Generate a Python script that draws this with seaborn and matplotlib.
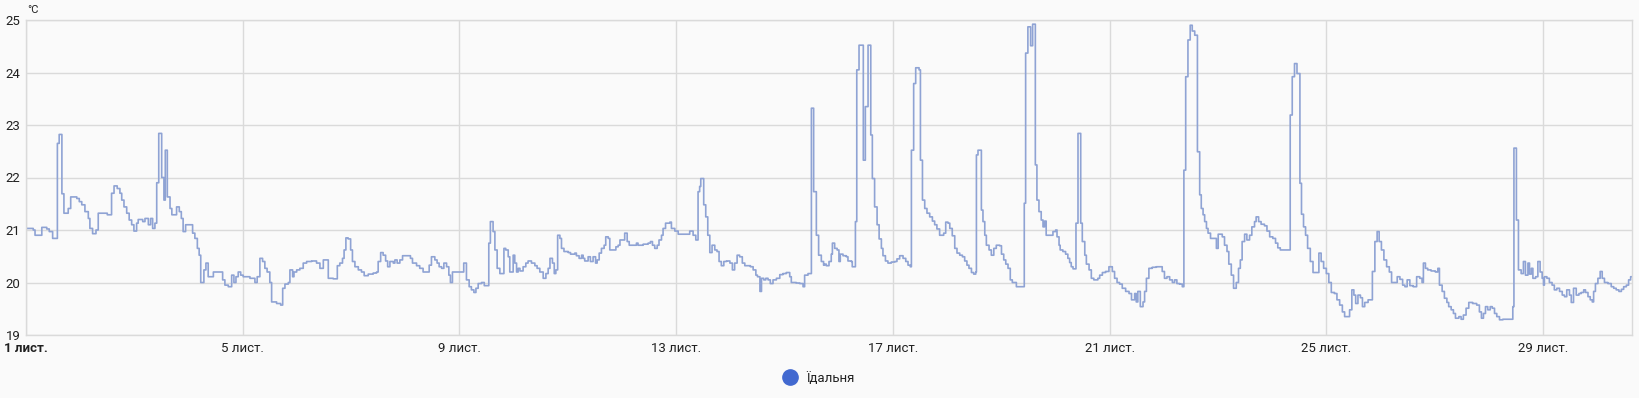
import pandas as pd
import matplotlib.pyplot as plt
import seaborn as sns
from matplotlib.lines import Line2D

# hours since 1 Nov 00:00, step values (°C)
hours = [
    0, 3.2, 4, 7, 9.2, 10.3, 11.8, 13.9, 14.7, 15.9, 16.8, 18.7, 19.8, 22.5, 23.6, 24.7,
    26.1, 27.6, 28.3, 29.5, 31, 32, 36, 37.9, 39, 40.4, 41.6, 42.4, 43.4, 44.6, 45.7, 46.8,
    47.8, 49, 49.7, 51.7, 52.7, 54.2, 55.2, 56.1, 57.1, 57.9, 58.8, 60.1, 61.1, 61.7, 62.6,
    63.8, 64.6, 66.7, 67.9, 68.8, 69.6, 70.7, 73.8, 74.8, 75.9, 76.7, 77.4, 78.8, 79.7, 80.7,
    83, 87.1, 88.1, 89.6, 91.1, 92.1, 93, 94, 95.1, 96.2, 99.2, 101.4, 102.4, 103.6, 104.8,
    105.8, 106.8, 108, 108.8, 111, 112.8, 113.7, 114.7, 116.2, 116.9, 118.1, 118.7, 119.9,
    121.3, 122.8, 124.3, 126.5, 128.7, 130.2, 131.7, 133.9, 136.1, 137.9, 139, 140.2, 140.9,
    141.7, 142.7, 143.8, 144.6, 145.7, 147.2, 148.6, 149.8, 151.6, 153.8, 155.3, 156, 157.1,
    158.2, 159.3, 160.2, 161.2, 162.7, 163.4, 164.4, 165.6, 166.8, 170.3, 171.2, 173, 174.4,
    175.9, 178.6, 179.6, 181.1, 182.1, 183, 184.1, 185.1, 186.3, 187.3, 188, 188.9, 193.9,
    195.1, 196.3, 197.3, 198.4, 199.3, 200.3, 201.8, 203, 205, 205.7, 206.9, 207.7, 208.7,
    209.9, 211.7, 212.5, 213.6, 214.3, 215.8, 216.5, 217.3, 218, 218.8, 220.2, 221.4, 222.4,
    223.9, 225.4, 226.4, 227.6, 229.1, 230.3, 231.3, 232.1, 233.2, 234, 234.7, 235.5, 236.5,
    237.2, 238.3, 240.2, 241.2, 243.1, 243.8, 245, 246.1, 246.8, 247.5, 249, 250, 251.2,
    252.3, 253, 253.9, 254.9, 256.1, 256.8, 257.9, 258.6, 261.3, 262.3, 263.1, 264.2, 265.2,
    266.3, 267.2, 270.4, 271.1, 273.4, 275.6, 276.6, 277.5, 278.5, 279.6, 280.4, 281.5,
    282.2, 283.3, 285.2, 285.9, 287.4, 288.9, 294, 295.5, 296.7, 297.7, 298.4, 298.9, 300.2,
    301.1, 302, 302.9, 303.9, 305.1, 306.1, 307, 308, 309.1, 310.3, 311.8, 312.9, 313.9,
    315, 316.1, 317.3, 318.4, 320.9, 322.1, 323.3, 324, 325.1, 325.8, 326.8, 327.7, 328.7,
    329.7, 330.9, 332.4, 333.9, 335.3, 336.8, 338.3, 339, 341.2, 342.7, 344.2, 344.9, 346.4,
    347.9, 348.9, 350.1, 351.1, 352.3, 353.3, 353.8, 354.5, 355.7, 356.7, 357.2, 358.2,
    359.3, 360.1, 360.7, 361.9, 363.4, 364.1, 365.6, 366, 367.4, 368, 369, 370.9, 371.8,
    373, 374.2, 374.9, 375.9, 377, 377.9, 378.9, 379.6, 380.7, 381.8, 383.3, 384.8, 385.8,
    387, 388.5, 389.7, 390.7, 391.7, 392.2, 393.2, 394.1, 395.6, 396.2, 397.1, 398.1, 399.1,
    400.3, 401.5, 402.5, 403.5, 404.7, 406.5, 407.4, 408.4, 409.2, 410.3, 411.4, 412.4,
    413.6, 414.8, 415.8, 416.8, 417.7, 418.8, 419.8, 420.7, 421, 421.7, 423.2, 423.9, 424.7,
    425.4, 426.6, 427.6, 428.7, 429.8, 431.3, 432.1, 433.1, 434, 435, 436, 436.9, 438.7,
    442.2, 442.8, 443.8, 445, 445.9, 447.1, 447.8, 448.7, 449.7, 450.5, 451.2, 451.9, 454.9,
    456.1, 456.7, 457.6, 458.1, 459.3, 460.5, 461.5, 462.3, 463, 463.8, 465.1, 466, 467.2,
    467.9, 469, 469.7, 470.9, 471.9, 473, 474.8, 475.6, 476.8, 478.2, 479.7, 481.2, 482.2,
    483.3, 484.4, 485.6, 487.1, 488.6, 489.7, 491.1, 491.8, 492.5, 493.6, 494.8, 495.5,
    496.3, 497.4, 498.9, 500.7, 503.3, 504.3, 505.4, 506.6, 507.8, 508.8, 509.8, 511, 512.2,
    512.9, 513.7, 514.7, 515.7, 516.6, 517.7, 518.9, 519.9, 520.6, 521.4, 522.1, 522.9,
    523.6, 524.7, 527.3, 528.1, 529.9, 530.9, 532, 532.8, 533.9, 534.9, 536.1, 537.1, 537.9,
    538.7, 539.8, 540.8, 542, 543, 544.2, 544.9, 546, 547.1, 548.6, 549.7, 550.9, 552.3,
    553.5, 554.5, 555.6, 560, 560.9, 561.9, 563, 564.3, 565, 565.9, 566.8, 567.7, 568.9,
    570.1, 572.7, 573.7, 574.8, 576, 577.1, 578.2, 579.6, 580.7, 581.9, 583.1, 584.1, 586.3,
    587.3, 588.2, 589, 590, 591.1, 592, 593, 594.5, 596.4, 597.5, 598.5, 599.4, 600.4,
    601.5, 602.7, 603.9, 604.9, 607.4, 608.6, 609.8, 610.8, 611.8, 613, 614.5, 616, 617.4,
    618.4, 619, 619.9, 620.9, 622.4, 624.3, 625.4, 626.1, 627.3, 628.3, 629.4, 630.2, 631.3,
    632.3, 633.2, 634.7, 635.7, 636.7, 637.9, 639.1, 640.8, 642.6, 643.8, 644.7, 645.6,
    646.5, 647.5, 648.6, 649.5, 650.5, 651.5, 652.7, 654.2, 658.6, 659.1, 660.2, 661.1,
    662.3, 663.3, 664.2, 665.3, 666, 666.8, 667.5, 668.7, 669.7, 670.7, 671.6, 672.2, 672.6,
    673.7, 674.8, 676, 677, 678.1, 679.3, 680.5, 681.5, 682.5, 683.7, 684.5, 685.5, 686.7,
    687.9, 688.9, 690, 690.8, 691.9, 692.9, 693.8, 694.4, 695.2, 696.3, 697.3, 698.2, 699.2,
    700.7, 702.2, 703.3, 704.4, 705.6, 706.7, 707.7, 708.9, 709.9, 710.8, 711.4,
]
temps = [
    21.03, 21.0, 20.9, 21.05, 21.02, 20.97, 20.84, 22.65, 22.82, 21.69, 21.32, 21.41, 21.63, 21.6, 21.54, 21.48,
    21.35, 21.22, 21.03, 20.93, 21.0, 21.32, 21.29, 21.7, 21.84, 21.79, 21.7, 21.57, 21.44, 21.32, 21.19, 21.1,
    20.98, 21.13, 21.2, 21.16, 21.22, 21.1, 21.22, 21.03, 21.13, 21.9, 22.84, 22.0, 21.57, 22.52, 21.63,
    21.41, 21.29, 21.44, 21.35, 21.22, 20.97, 21.1, 20.94, 20.84, 20.65, 20.52, 20.0, 20.24, 20.37, 20.11,
    20.2, 20.05, 19.95, 19.92, 20.14, 20.0, 20.11, 20.2, 20.14, 20.11, 20.08, 20.0, 20.11, 20.46, 20.4,
    20.27, 20.2, 20.0, 19.63, 19.6, 19.57, 19.89, 19.97, 20.0, 20.24, 20.11, 20.2, 20.24,
    20.27, 20.37, 20.4, 20.41, 20.37, 20.27, 20.43, 20.08, 20.07, 20.32, 20.37, 20.46, 20.62,
    20.85, 20.83, 20.62, 20.4, 20.3, 20.24, 20.2, 20.13, 20.16, 20.18, 20.2, 20.4, 20.57,
    20.52, 20.41, 20.3, 20.4, 20.37, 20.43, 20.37, 20.43, 20.51, 20.46, 20.37, 20.32, 20.27,
    20.2, 20.33, 20.49, 20.43, 20.37, 20.3, 20.27, 20.37, 20.3, 20.14, 20.0, 20.2, 20.37,
    20.05, 19.92, 19.86, 19.81, 19.89, 19.98, 20.0, 19.94, 20.75, 21.16, 20.97, 20.62, 20.27,
    20.17, 20.65, 20.62, 20.49, 20.2, 20.52, 20.37, 20.2, 20.27, 20.22, 20.3, 20.37, 20.41,
    20.37, 20.32, 20.27, 20.2, 20.08, 20.17, 20.27, 20.46, 20.37, 20.17, 20.24, 20.9, 20.84,
    20.65, 20.59, 20.57, 20.54, 20.56, 20.51, 20.46, 20.52, 20.46, 20.41, 20.49, 20.4, 20.49,
    20.37, 20.43, 20.56, 20.65, 20.71, 20.87, 20.84, 20.62, 20.68, 20.71, 20.81, 20.81, 20.94,
    20.78, 20.71, 20.75, 20.71, 20.73, 20.75, 20.78, 20.71, 20.65, 20.71, 20.81, 20.9,
    21.03, 21.13, 21.15, 21.03, 20.98, 20.92, 20.98, 20.9, 20.81, 21.73, 21.83, 21.98, 21.48,
    21.25, 20.9, 20.57, 20.71, 20.62, 20.59, 20.4, 20.32, 20.4, 20.41, 20.37, 20.24, 20.37,
    20.52, 20.49, 20.37, 20.32, 20.3, 20.24, 20.14, 20.11, 19.83, 20.08, 20.05, 20.08, 20.05,
    19.98, 20.05, 20.08, 20.15, 20.17, 20.19, 20.11, 20.0, 19.99, 19.98, 19.92, 20.14, 20.17,
    23.32, 21.73, 20.9, 20.52, 20.4, 20.33, 20.35, 20.32, 20.4, 20.54, 20.75, 20.65,
    20.62, 20.4, 20.54, 20.51, 20.49, 20.41, 20.4, 20.3, 21.16, 24.05, 24.52, 22.33, 23.35,
    24.52, 22.81, 21.98, 21.44, 21.1, 20.83, 20.65, 20.51, 20.41, 20.37, 20.39, 20.4, 20.45,
    20.51, 20.46, 20.4, 20.33, 20.3, 22.52, 23.79, 24.09, 24.05, 22.33, 21.57, 21.41, 21.32,
    21.25, 21.17, 21.1, 21.02, 20.9, 20.94, 21.15, 21.13, 21.03, 20.89, 20.65, 20.56,
    20.52, 20.49, 20.41, 20.33, 20.27, 20.19, 20.16, 20.2, 22.43, 22.52, 21.38, 21.16, 20.9,
    20.71, 20.62, 20.52, 20.65, 20.71, 20.7, 20.54, 20.43, 20.35, 20.27, 20.05, 20.0, 19.92,
    21.51, 24.37, 24.87, 24.51, 24.92, 22.24, 21.57, 21.35, 21.19, 21.06, 21.17, 20.9, 20.97,
    21.0, 20.87, 20.71, 20.62, 20.59, 20.54, 20.46, 20.38, 20.3, 20.26, 21.13, 22.84, 21.13,
    20.78, 20.52, 20.35, 20.24, 20.08, 20.05, 20.08, 20.14, 20.19, 20.21, 20.3, 20.21, 20.08,
    20.0, 19.97, 19.89, 19.83, 19.79, 19.67, 19.79, 19.63, 19.83, 19.54, 19.63, 19.83,
    20.08, 20.27, 20.29, 20.3, 20.21, 20.08, 20.11, 20.05, 20.0, 20.05, 19.98, 19.97, 19.92,
    22.14, 23.92, 24.62, 24.9, 24.79, 24.71, 22.49, 21.67, 21.41, 21.29, 21.16, 21.03,
    20.94, 20.84, 20.65, 20.92, 20.87, 20.71, 20.59, 20.35, 20.14, 19.89, 20.0, 20.27, 20.43,
    20.78, 20.92, 20.81, 20.9, 21.06, 21.16, 21.25, 21.16, 21.11, 21.08, 20.98, 20.87, 20.84,
    20.75, 20.66, 20.62, 23.19, 23.92, 24.17, 23.98, 21.89, 21.3, 21.06, 20.9, 20.65, 20.4,
    20.19, 20.56, 20.4, 20.27, 20.17, 20.0, 19.81, 19.79, 19.67, 19.57, 19.44, 19.35, 19.48,
    19.86, 19.76, 19.6, 19.76, 19.71, 19.54, 19.62, 19.67, 20.21, 20.78, 20.97, 20.78, 20.62,
    20.43, 20.3, 20.2, 20.0, 20.11, 20.06, 19.95, 19.92, 20.05, 19.94, 19.92, 20.11, 20.08,
    20.0, 20.37, 20.27, 20.24, 20.22, 20.2, 20.27, 19.95, 19.83, 19.7, 19.62, 19.54, 19.48,
    19.41, 19.32, 19.35, 19.3, 19.38, 19.51, 19.62, 19.6, 19.57, 19.44, 19.32, 19.41,
    19.54, 19.48, 19.54, 19.51, 19.41, 19.35, 19.29, 19.3, 19.54, 22.56, 21.19, 20.24,
    20.17, 20.4, 20.14, 20.37, 20.16, 20.27, 20.08, 20.11, 20.4, 20.2, 20.08, 19.95, 20.11,
    20.08, 20.0, 19.95, 19.86, 19.89, 19.83, 19.76, 19.73, 19.86, 19.76, 19.62, 19.89, 19.76,
    19.79, 19.81, 19.86, 19.81, 19.73, 19.67, 19.63, 19.83, 19.98, 20.08, 20.21, 20.08, 20.0,
    19.98, 19.92, 19.89, 19.86, 19.83, 19.87, 19.92, 19.95, 20.05, 20.11, 20.11,
]

tick_days = [1, 5, 9, 13, 17, 21, 25, 29]
tick_labels = [f"{d} лист." for d in tick_days]
y_ticks = [19, 20, 21, 22, 23, 24, 25]
series_name = "Їдальня"
unit = "°C"

sns.set_style("white")
plt.rcParams["font.family"] = ["Roboto", "DejaVu Sans"]

bg = "#fafafa"
grid_c = "#dadada"
line_c = "#8fa3d4"
legend_c = "#4269d0"

df = pd.DataFrame({"hour": hours, "temp": temps})

fig = plt.figure(figsize=(16.4, 3.98), dpi=100, facecolor=bg)
ax = fig.add_axes([26 / 1640, 1 - 335 / 398, (1632 - 26) / 1640, (335 - 20) / 398])
ax.set_facecolor(bg)
ax.set_axisbelow(True)

sns.lineplot(data=df, x="hour", y="temp", ax=ax, drawstyle="steps-post",
             color=line_c, linewidth=1.2, estimator=None, sort=False)

ax.set_xlim(0, hours[-1])
ax.set_ylim(19, 25)
ax.set_yticks(y_ticks)
ax.set_yticklabels([str(v) for v in y_ticks])
ax.set_xticks([(d - 1) * 24 for d in tick_days])
ax.set_xticklabels(tick_labels)
ax.get_xticklabels()[0].set_fontweight("bold")
ax.set_xlabel("")
ax.set_ylabel("")
ax.grid(True, color=grid_c, linewidth=1)
for s in ax.spines.values():
    s.set_color(grid_c)
    s.set_linewidth(1)
ax.tick_params(axis="both", length=0, labelsize=9.5, colors="#212121")
ax.tick_params(axis="x", pad=5)
ax.tick_params(axis="y", pad=4)

ax.text(0.001, 1.015, unit, transform=ax.transAxes, fontsize=8, color="#212121",
        ha="left", va="bottom")

handle = Line2D([], [], marker="o", linestyle="", markersize=11,
                markerfacecolor=legend_c, markeredgecolor=legend_c)
fig.legend(handles=[handle], labels=[series_name], loc="center",
           bbox_to_anchor=(816 / 1640, 1 - 378 / 398), frameon=False,
           handletextpad=0.2, fontsize=9.5, labelcolor="#212121")

fig.savefig("out.png", dpi=100, facecolor=bg)
